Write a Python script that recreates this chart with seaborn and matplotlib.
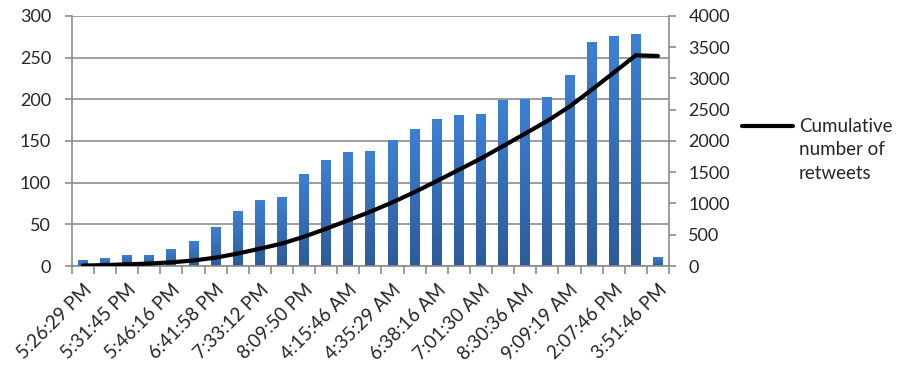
import numpy as np
import pandas as pd
import matplotlib
matplotlib.use('Agg')
import matplotlib.pyplot as plt
import seaborn as sns
from matplotlib.colors import LinearSegmentedColormap
from matplotlib.lines import Line2D

# data
tick_labels = ['5:26:29 PM', '5:31:45 PM', '5:46:16 PM', '6:41:58 PM', '7:33:12 PM',
               '8:09:50 PM', '4:15:46 AM', '4:35:29 AM', '6:38:16 AM', '7:01:30 AM',
               '8:30:36 AM', '9:09:19 AM', '2:07:46 PM', '3:51:46 PM']
retweets = [6, 9, 12, 12, 20, 29, 46, 65, 78, 82, 110, 127, 136, 137,
            150, 164, 176, 180, 182, 198, 200, 202, 229, 268, 275, 278, 10]
cumulative = [6, 15, 27, 39, 59, 88, 134, 199, 277, 359, 469, 596, 732, 869,
              1019, 1183, 1359, 1539, 1721, 1919, 2119, 2321, 2550, 2818, 3093, 3371, 3360]

df = pd.DataFrame({'idx': range(len(retweets)), 'retweets': retweets, 'cumulative': cumulative})

sns.set_style('white')
plt.rcParams['font.family'] = ['Lato', 'DejaVu Sans']
grey = '#8c8c8c'
fs = 13

fig, ax = plt.subplots(figsize=(8.98, 3.71), dpi=100)
fig.subplots_adjust(left=0.080, right=0.745, top=0.957, bottom=0.283)

sns.barplot(data=df, x='idx', y='retweets', ax=ax, width=0.45, color='#3570BC', saturation=1)

# vertical gradient on each bar, like the Excel fill
cmap = LinearSegmentedColormap.from_list('blu', ['#2D5B98', '#3D80D3'])
grad = np.linspace(1, 0, 256).reshape(-1, 1)
for bar in list(ax.patches):
    x0, w, h = bar.get_x(), bar.get_width(), bar.get_height()
    ax.imshow(grad, extent=[x0, x0 + w, 0, h], aspect='auto', cmap=cmap,
              origin='upper', zorder=2)
    bar.set_visible(False)

ax.set_xlim(-0.5, len(retweets) - 0.5)
ax.set_ylim(0, 300)
ax.set_yticks(range(0, 301, 50))
ax.set_axisbelow(True)
ax.yaxis.grid(True, color=grey, lw=1.2)
ax.xaxis.grid(False)
ax.set_xlabel('')
ax.set_ylabel('')

ax.set_xticks(range(0, len(retweets), 2))
ax.set_xticklabels(tick_labels, rotation=45, ha='right', rotation_mode='anchor')
ax.set_xticks(np.arange(-0.5, len(retweets), 1), minor=True)
ax.tick_params(axis='x', which='major', length=0, pad=11, labelsize=13.5)
ax.tick_params(axis='x', which='minor', length=6, color=grey, width=1.2, direction='out')
ax.tick_params(axis='y', length=5, color=grey, width=1.2, direction='out', labelsize=fs, pad=10)
ax.xaxis.set_ticks_position('bottom')
ax.yaxis.set_ticks_position('left')

for side in ['top', 'right']:
    ax.spines[side].set_visible(False)
for side in ['left', 'bottom']:
    ax.spines[side].set_color(grey)
    ax.spines[side].set_linewidth(1.2)

ax2 = ax.twinx()
sns.lineplot(data=df, x='idx', y='cumulative', ax=ax2, color='black', lw=3, legend=False)
ax2.set_ylim(0, 4000)
ax2.set_yticks(range(0, 4001, 500))
ax2.set_ylabel('')
ax2.tick_params(axis='y', length=5, color=grey, width=1.2, direction='out', labelsize=fs, pad=9)
for side in ['top', 'left', 'bottom']:
    ax2.spines[side].set_visible(False)
ax2.spines['right'].set_color(grey)
ax2.spines['right'].set_linewidth(1.2)

# legend drawn by hand so the key sits beside the first text line
fig.add_artist(Line2D([742 / 898, 793 / 898], [1 - 126 / 371, 1 - 126 / 371],
                      color='black', lw=3, transform=fig.transFigure))
fig.text(799 / 898, 1 - 118 / 371, 'Cumulative\nnumber of\nretweets',
         ha='left', va='top', fontsize=13.5, linespacing=1.45,
         transform=fig.transFigure)

plt.savefig('out.png', dpi=100)
